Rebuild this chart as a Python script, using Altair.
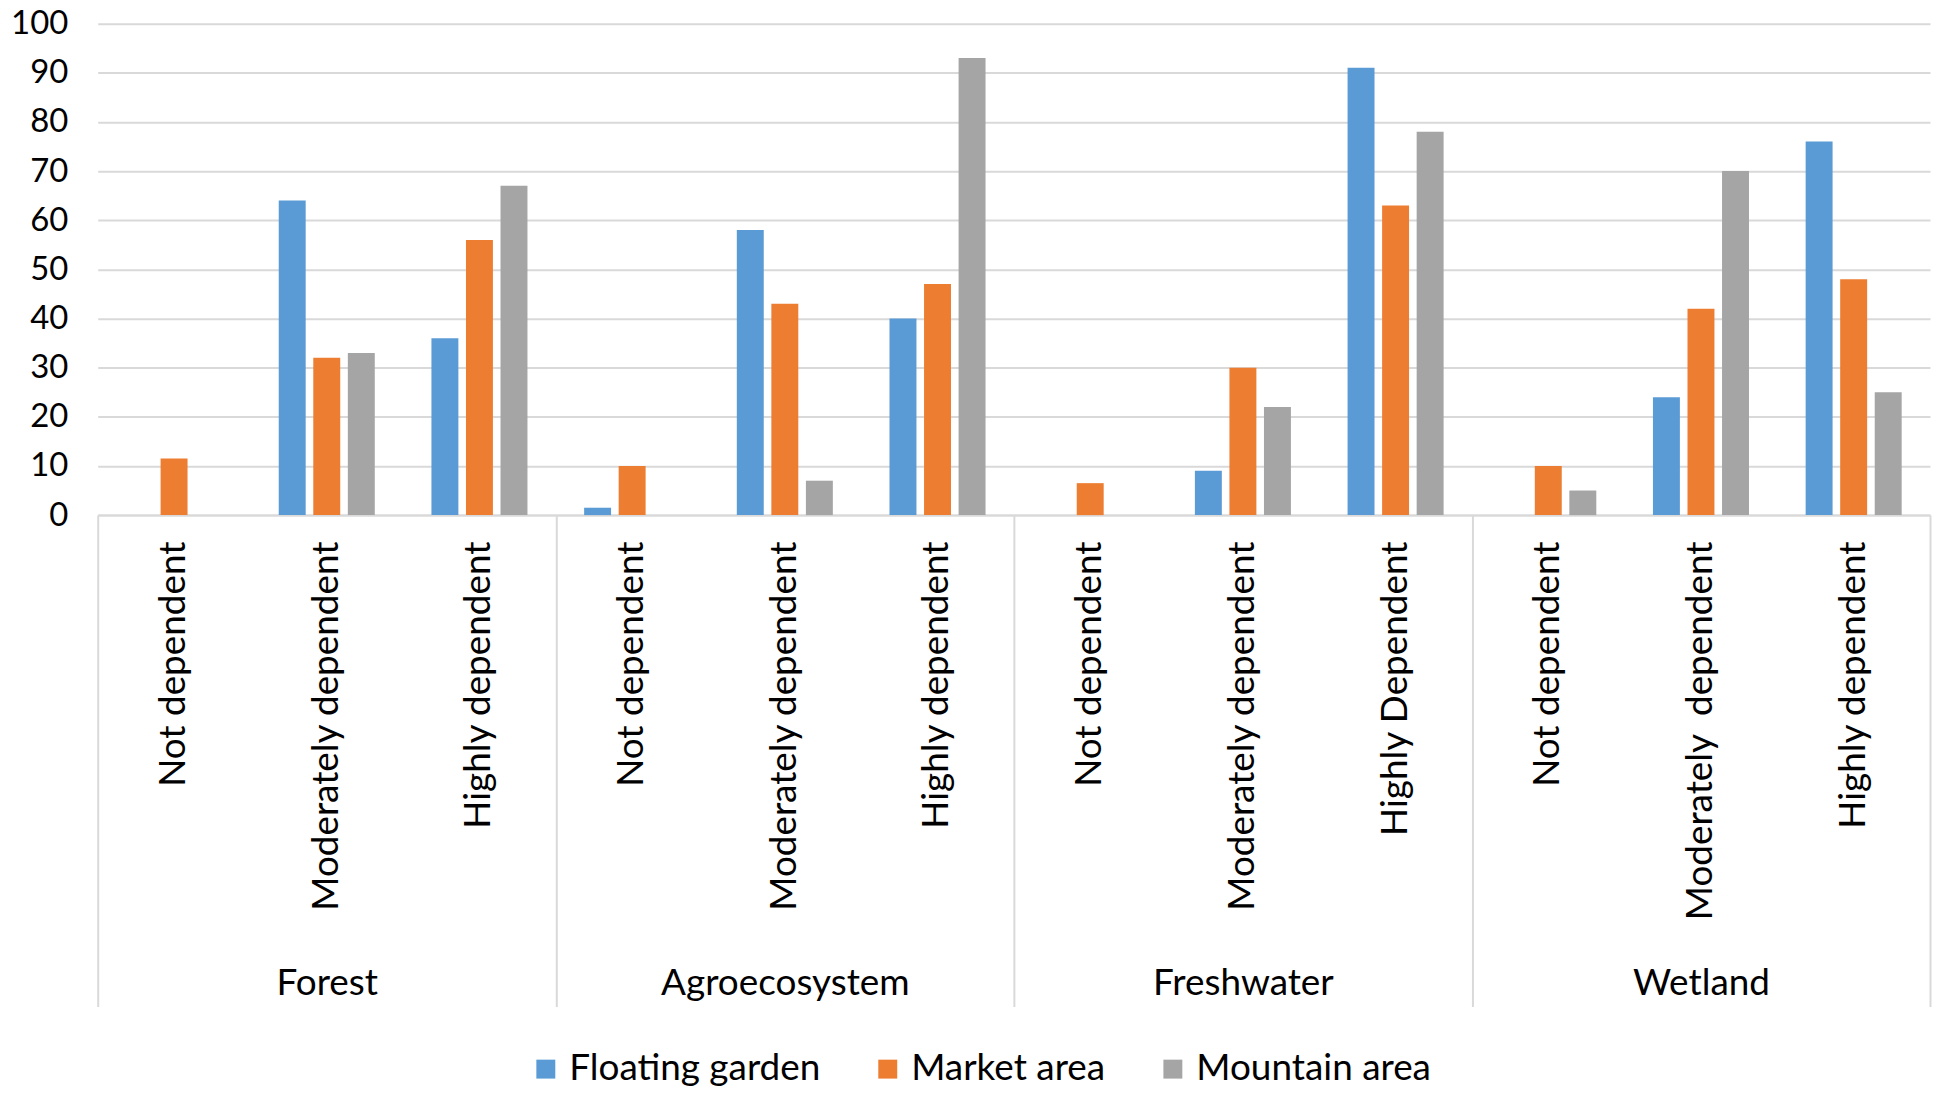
import altair as alt
import pandas as pd

groups = ["Forest", "Agroecosystem", "Freshwater", "Wetland"]
levels = [
    ["Not dependent", "Moderately dependent", "Highly dependent"],
    ["Not dependent", "Moderately dependent", "Highly dependent"],
    ["Not dependent", "Moderately dependent", "Highly Dependent"],
    ["Not dependent", "Moderately\u00a0 dependent", "Highly dependent"],
]
series = ["Floating garden", "Market area", "Mountain area"]
floating = [0, 64, 36, 1.5, 58, 40, 0, 9, 91, 0, 24, 76]
market = [11.5, 32, 56, 10, 43, 47, 6.5, 30, 63, 10, 42, 48]
mountain = [0, 33, 67, 0, 7, 93, 0, 22, 78, 5, 70, 25]
colors = ["#5B9BD5", "#ED7D31", "#A5A5A5"]
y_ticks = list(range(0, 101, 10))

keys = [f"{g}|{s}" for g, lv in zip(groups, levels) for s in lv]
rows = []
for name, vals in zip(series, [floating, market, mountain]):
    for k, v in zip(keys, vals):
        rows.append({"key": k, "series": name, "value": v})
df = pd.DataFrame(rows)
gdf = pd.DataFrame({"group": groups})

FONT = "Lato"
FS_NUM = 33
FS_TXT = 37
GRID = "#d9d9d9"
W, H = 1838, 493

bars = alt.Chart(df).mark_bar().encode(
    x=alt.X(
        "key:N", sort=keys,
        scale=alt.Scale(paddingInner=0, paddingOuter=0),
        axis=alt.Axis(
            title=None, orient="bottom", labelExpr="split(datum.label, '|')[1]",
            labelAngle=-90, labelAlign="right", labelBaseline="middle",
            labelPadding=26, ticks=False, domain=True, domainColor=GRID,
            domainWidth=2, grid=False, labelFont=FONT, labelFontSize=FS_TXT,
            labelColor="#000000", labelLimit=1000,
        ),
    ),
    xOffset=alt.XOffset("series:N", sort=series,
                        scale=alt.Scale(paddingInner=0.22, paddingOuter=0.82)),
    y=alt.Y(
        "value:Q", scale=alt.Scale(domain=[0, 100], nice=False),
        axis=alt.Axis(
            title=None, values=y_ticks, domain=False, ticks=False,
            gridColor=GRID, gridWidth=2, labelPadding=30, labelFont=FONT,
            labelFontSize=FS_NUM, labelColor="#000000",
        ),
    ),
    color=alt.Color(
        "series:N", sort=series,
        scale=alt.Scale(domain=series, range=colors),
        legend=alt.Legend(
            title=None, orient="none", direction="horizontal",
            legendX=431, legendY=1030, symbolType="square", symbolSize=361,
            symbolStrokeWidth=0, labelFont=FONT, labelFontSize=FS_TXT,
            labelColor="#000000", labelOffset=5, columnPadding=49,
            padding=0, labelLimit=1000,
        ),
    ),
)

grp = alt.Chart(gdf).mark_point(opacity=0).encode(
    x=alt.X(
        "group:N", sort=groups,
        scale=alt.Scale(paddingInner=0, paddingOuter=0),
        axis=alt.Axis(
            title=None, orient="bottom", domain=False, ticks=True,
            tickBand="extent", tickSize=493, tickColor=GRID, tickWidth=2,
            labelAngle=0, labelPadding=-23, labelBaseline="middle",
            labelAlign="center", labelFont=FONT, labelFontSize=FS_TXT,
            labelColor="#000000", grid=False, labelLimit=1000,
        ),
    ),
)

chart = (
    alt.layer(bars, grp)
    .resolve_scale(x="independent")
    .properties(
        width=W, height=H,
        padding={"left": 90, "top": 14, "right": 2, "bottom": 572},
        autosize=alt.AutoSizeParams(type="none"),
    )
    .configure_view(stroke=None)
)

chart.save("out.html", embed_options={"renderer": "svg", "actions": False})
